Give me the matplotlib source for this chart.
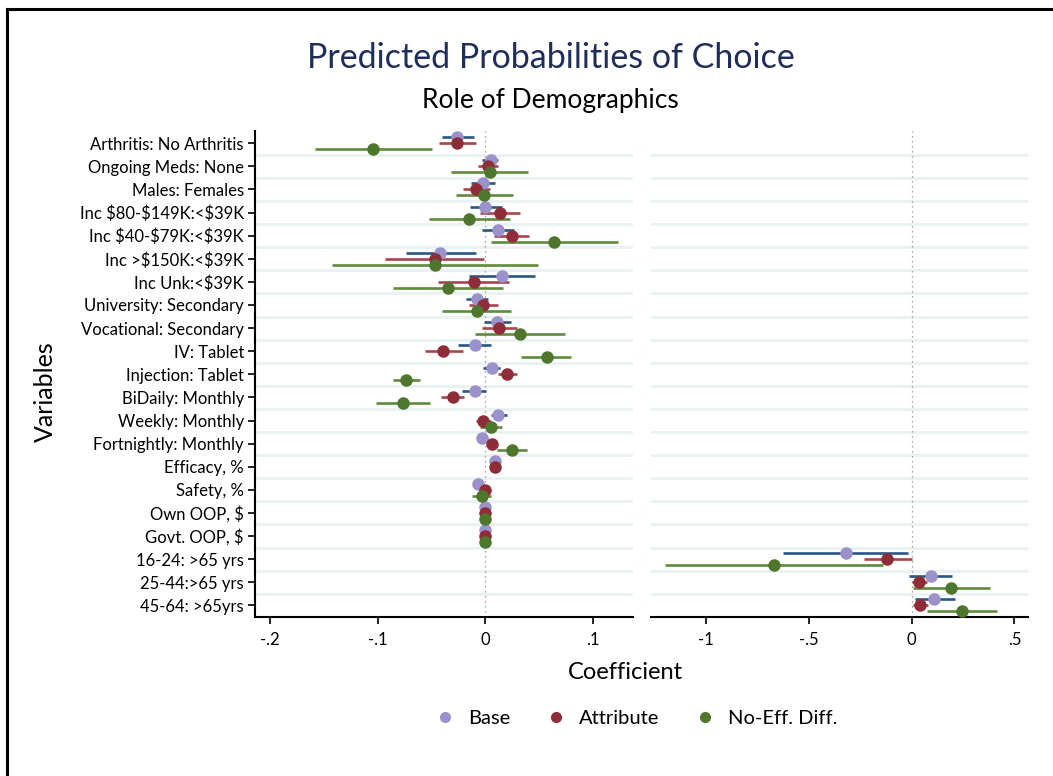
import numpy as np
import matplotlib
matplotlib.use("Agg")
import matplotlib.pyplot as plt
from matplotlib.lines import Line2D

plt.rcParams['font.family'] = ['Lato', 'DejaVu Sans']
plt.rcParams['text.parse_math'] = False

# ---------------- data ----------------
labels = ["Arthritis: No Arthritis", "Ongoing Meds: None", "Males: Females",
          "Inc $80-$149K:<$39K", "Inc $40-$79K:<$39K", "Inc >$150K:<$39K",
          "Inc Unk:<$39K", "University: Secondary", "Vocational: Secondary",
          "IV: Tablet", "Injection: Tablet", "BiDaily: Monthly",
          "Weekly: Monthly", "Fortnightly: Monthly", "Efficacy, %",
          "Safety, %", "Own OOP, $", "Govt. OOP, $"]
age_labels = ["16-24: >65 yrs", "25-44:>65 yrs", "45-64: >65yrs"]

base = [-0.026, 0.005, -0.002, 0.000, 0.012, -0.042, 0.015, -0.008, 0.011,
        -0.010, 0.006, -0.010, 0.012, -0.003, 0.009, -0.007, 0.000, 0.000]
base_lo = [-0.040, -0.003, -0.013, -0.014, -0.003, -0.074, -0.015, -0.018, -0.001,
           -0.025, -0.002, -0.022, 0.005, -0.008, 0.008, -0.008, 0.000, 0.000]
base_hi = [-0.011, 0.012, 0.009, 0.015, 0.027, -0.009, 0.046, 0.002, 0.024,
           0.005, 0.014, 0.001, 0.020, 0.002, 0.010, -0.006, 0.000, 0.000]

attr = [-0.026, 0.002, -0.009, 0.014, 0.025, -0.047, -0.011, -0.002, 0.013,
        -0.039, 0.020, -0.030, -0.002, 0.006, 0.009, 0.000, 0.000, 0.000]
attr_lo = [-0.043, -0.007, -0.021, -0.005, 0.008, -0.093, -0.044, -0.015, -0.003,
           -0.056, 0.012, -0.041, -0.009, 0.005, 0.008, -0.001, 0.000, 0.000]
attr_hi = [-0.009, 0.012, 0.004, 0.032, 0.041, -0.001, 0.022, 0.012, 0.029,
           -0.021, 0.029, -0.020, 0.005, 0.007, 0.010, 0.001, 0.000, 0.000]

noeff = [-0.104, 0.004, -0.001, -0.015, 0.064, -0.047, -0.035, -0.008, 0.032,
         0.057, -0.074, -0.077, 0.005, 0.025, np.nan, -0.003, 0.000, 0.000]
noeff_lo = [-0.158, -0.032, -0.027, -0.052, 0.005, -0.143, -0.086, -0.040, -0.010,
            0.033, -0.086, -0.102, -0.005, 0.011, np.nan, -0.012, 0.000, 0.000]
noeff_hi = [-0.050, 0.040, 0.026, 0.023, 0.123, 0.049, 0.016, 0.024, 0.074,
            0.080, -0.061, -0.051, 0.015, 0.039, np.nan, 0.005, 0.000, 0.000]

age_base = [-0.321, 0.092, 0.110]
age_base_lo = [-0.626, -0.011, 0.015]
age_base_hi = [-0.018, 0.196, 0.211]
age_attr = [-0.118, 0.037, 0.042]
age_attr_lo = [-0.233, 0.001, 0.007]
age_attr_hi = [0.000, 0.074, 0.079]
age_noeff = [-0.671, 0.193, 0.243]
age_noeff_lo = [-1.197, 0.007, 0.075]
age_noeff_hi = [-0.141, 0.383, 0.413]

series_names = ["Base", "Attribute", "No-Eff. Diff."]
dot_colors = ["#9b92cc", "#8e2c37", "#4e772d"]
line_colors = ["#2a5683", "#a8454e", "#5e8a3b"]

# ---------------- figure ----------------
fig = plt.figure(figsize=(10.53, 7.76), dpi=100)
fig.patch.set_facecolor("white")

axL = fig.add_axes([0.2422, 0.2053, 0.3587, 0.6259])
axR = fig.add_axes([0.6182, 0.2053, 0.358, 0.6259])

all_labels = labels + age_labels
n_all = len(all_labels)
offsets = [-0.26, 0.0, 0.26]


def draw(ax, row_start, vals):
    for k, (v, lo, hi) in enumerate(vals):
        y = np.arange(row_start, row_start + len(v)) + offsets[k]
        ax.hlines(y, lo, hi, color=line_colors[k], lw=1.9, zorder=3)
        ax.plot(v, y, 'o', color=dot_colors[k], ms=9, mec='none', zorder=4)


for ax in (axL, axR):
    for g in np.arange(1.5, n_all, 1.0):
        ax.axhline(g, color="#e9f1f3", lw=2.0, zorder=1)
    ax.axvline(0, color="#8a8a8a", lw=0.9, ls=(0, (1, 3)), zorder=2)
    ax.set_ylim(n_all + 0.49, 0.47)
    for s in ("top", "right"):
        ax.spines[s].set_visible(False)
    ax.spines["bottom"].set_linewidth(1.5)
    ax.tick_params(axis='x', length=5, width=1.2, labelsize=12, pad=6)

draw(axL, 1, [(base, base_lo, base_hi), (attr, attr_lo, attr_hi),
              (noeff, noeff_lo, noeff_hi)])
draw(axR, len(labels) + 1, [(age_base, age_base_lo, age_base_hi),
                            (age_attr, age_attr_lo, age_attr_hi),
                            (age_noeff, age_noeff_lo, age_noeff_hi)])

axL.set_xlim(-0.2141, 0.137)
axL.set_xticks([-0.2, -0.1, 0, 0.1])
axL.set_xticklabels(["-.2", "-.1", "0", ".1"])
axL.set_yticks(np.arange(1, n_all + 1))
axL.set_yticklabels(all_labels, fontsize=12)
axL.tick_params(axis='y', length=5, width=1.2, pad=3)
axL.spines["left"].set_linewidth(1.5)

axR.set_xlim(-1.2674, 0.5654)
axR.set_xticks([-1, -0.5, 0, 0.5])
axR.set_xticklabels(["-1", "-.5", "0", ".5"])
axR.spines["left"].set_visible(False)
axR.set_yticks([])

# titles and labels
fig.text(0.523, 0.925, "Predicted Probabilities of Choice", ha='center', va='center',
         fontsize=24.5, color="#1f2d5b")
fig.text(0.523, 0.870, "Role of Demographics", ha='center', va='center',
         fontsize=19, color="black")
fig.text(0.043, 0.495, "Variables", rotation=90, ha='center', va='center', fontsize=18)
fig.text(0.5935, 0.134, "Coefficient", ha='center', va='center', fontsize=17)

handles = [Line2D([], [], ls='none', marker='o', ms=8, mec='none', color=c)
           for c in dot_colors]
fig.legend(handles, series_names, loc='center', bbox_to_anchor=(0.604, 0.0747),
           ncol=3, frameon=False, fontsize=14.5, handlelength=1.0,
           handletextpad=0.65, columnspacing=1.75)

# outer frame (top and left edges)
fig.add_artist(Line2D([0.0065, 1.0], [0.989, 0.989], transform=fig.transFigure,
                      color='black', lw=2.2))
fig.add_artist(Line2D([0.0065, 0.0065], [0.0, 0.989], transform=fig.transFigure,
                      color='black', lw=2.2))

fig.savefig("out.png", dpi=100, facecolor="white")
